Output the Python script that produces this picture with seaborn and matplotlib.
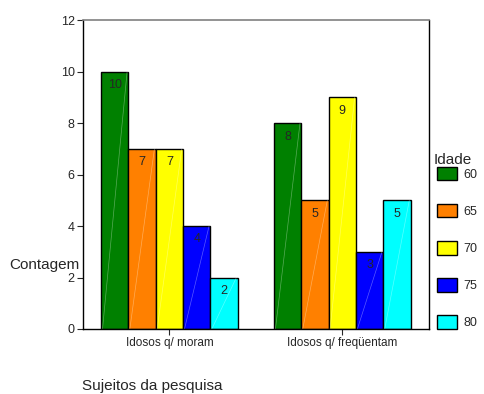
import matplotlib
matplotlib.use("Agg")
import matplotlib.pyplot as plt
import pandas as pd
import seaborn as sns

grupos = ["Idosos q/ moram", "Idosos q/ freqüentam"]
idades = ["60", "65", "70", "75", "80"]
moram = [10, 7, 7, 4, 2]
frequentam = [8, 5, 9, 3, 5]
cores = ["#008000", "#FF8000", "#FFFF00", "#0000FF", "#00FFFF"]

df = pd.DataFrame({
    "grupo": [grupos[0]] * 5 + [grupos[1]] * 5,
    "idade": idades * 2,
    "contagem": moram + frequentam,
})

sns.set_style("white")
plt.rcParams["font.family"] = ["Liberation Sans", "DejaVu Sans"]

fig = plt.figure(figsize=(4.84, 3.94), dpi=100)
ax = fig.add_axes([0.1715, 0.165, 0.7145, 0.784])

sns.barplot(data=df, x="grupo", y="contagem", hue="idade", hue_order=idades,
            palette=cores, width=0.79, edgecolor="black", linewidth=1,
            saturation=1, ax=ax)

# faint diagonal line inside each bar (like the original export)
for cont in ax.containers:
    for p in cont.patches:
        x0, w, h = p.get_x(), p.get_width(), p.get_height()
        ax.plot([x0 + w * 0.05, x0 + w * 0.95], [0, h], color="white",
                lw=0.5, alpha=0.35, zorder=p.get_zorder() + 0.1)

for cont in ax.containers:
    ax.bar_label(cont, padding=-14, fontsize=9)

ax.set_ylim(0, 12)
ax.set_xlim(-0.5, 1.5)
ax.set_yticks([0, 2, 4, 6, 8, 10, 12])
ax.tick_params(axis="y", left=True, length=4, labelsize=9, pad=2)
ax.tick_params(axis="x", bottom=True, length=4, labelsize=8.5, pad=2)
for s in ["left", "bottom", "right"]:
    ax.spines[s].set_color("black")
    ax.spines[s].set_linewidth(1)
ax.spines["top"].set_color("#808080")
ax.spines["top"].set_linewidth(1.2)

ax.set_xlabel("")
ax.set_ylabel("")
fig.text(0.02, 0.327, "Contagem", fontsize=11, va="center", ha="left")
fig.text(0.17, 0.02, "Sujeitos da pesquisa", fontsize=11, va="center", ha="left")
fig.text(0.895, 0.595, "Idade", fontsize=11, va="center", ha="left")

ax.legend(loc="upper left", bbox_to_anchor=(0.903, 0.577),
          bbox_transform=fig.transFigure, frameon=False, fontsize=9,
          labelspacing=1.85, handlelength=1.6, handleheight=1.3,
          handletextpad=0.5, borderaxespad=0, borderpad=0)

fig.savefig("out.png", dpi=100)
